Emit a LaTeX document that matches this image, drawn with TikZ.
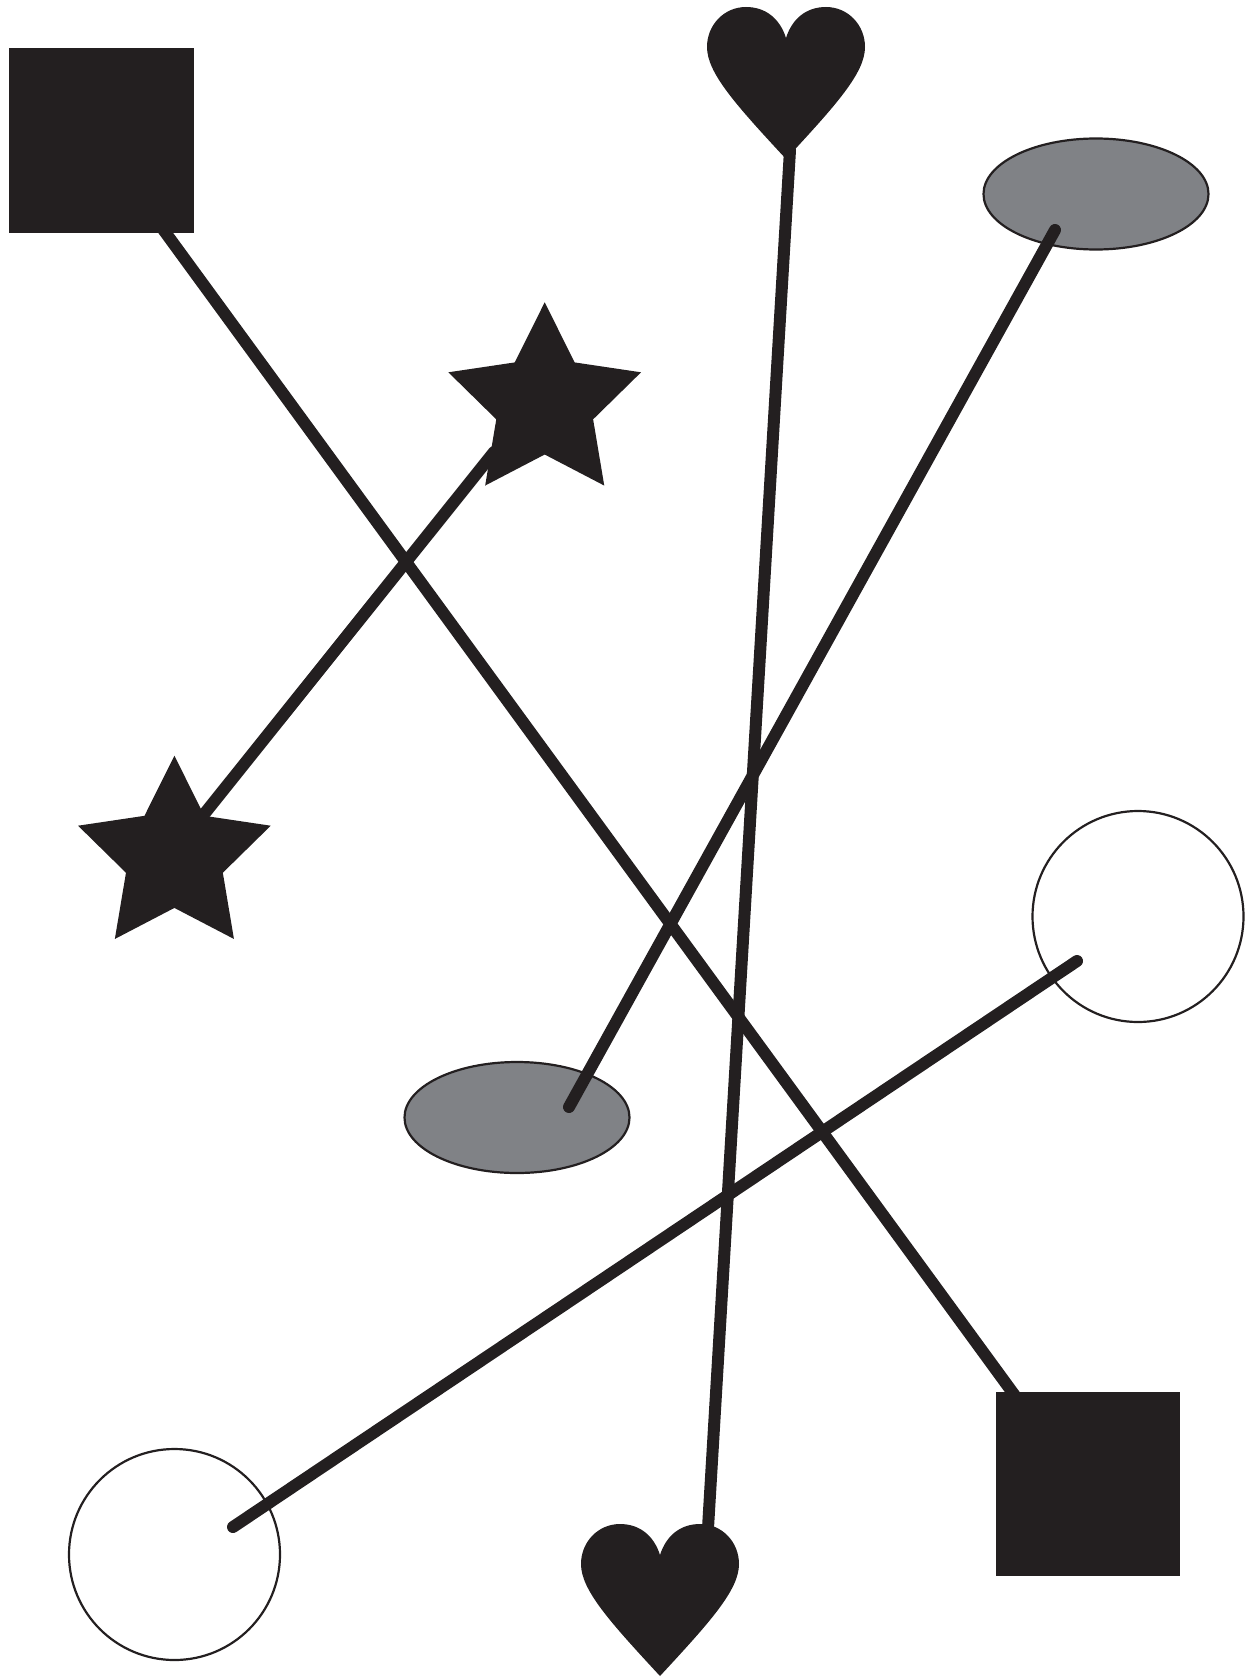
\documentclass[tikz,border=0pt]{standalone}
\usepackage{tikz}
\usetikzlibrary{shapes.geometric}
\definecolor{Ink}{RGB}{35,31,32}
\definecolor{OvalFill}{RGB}{128,130,134}
\tikzset{
  nd_sq/.style={rectangle,fill=Ink,inner sep=0pt},
  nd_star/.style={star,star points=5,star point ratio=1.99,fill=Ink,inner sep=0pt,minimum size=202.6pt},
  nd_oval/.style={ellipse,draw=Ink,line width=2.2pt,fill=OvalFill,inner sep=0pt,minimum width=225pt,minimum height=111pt},
  nd_ring/.style={circle,draw=Ink,line width=2.2pt,inner sep=0pt,minimum size=211pt},
  rod/.style={draw=Ink,line width=12pt,line cap=round},
}
\newcommand{\heartat}[2]{%
  \fill[Ink,shift={(#1,#2)}] (0,31) .. controls (-6,12) and (-20,0) .. (-40,0)
    .. controls (-62,0) and (-79,18) .. (-79,40) .. controls (-79,66) and (-50,98) .. (0,152)
    .. controls (50,98) and (79,66) .. (79,40)
    .. controls (79,18) and (62,0) .. (40,0) .. controls (20,0) and (6,12) .. (0,31) -- cycle;}

\begin{document}
\begin{tikzpicture}[x=1pt,y=-1pt]
\useasboundingbox (0,0) rectangle (1251,1678);
% rings and ovals
\node[nd_ring] (ringA) at (1138,916.5) {};
\node[nd_ring] (ringB) at (174.5,1554.5) {};
\node[nd_oval] (ovalA) at (1096,194) {};
\node[nd_oval] (ovalB) at (517,1117.5) {};
% rod ends
\coordinate (sqEndA) at (157,221);
\coordinate (sqEndB) at (1021,1404);
\coordinate (hrtEndA) at (790,150);
\coordinate (hrtEndB) at (708,1528);
\coordinate (ovEndA) at (1055,230);
\coordinate (ovEndB) at (569,1107);
\coordinate (stEndA) at (494,452);
\coordinate (stEndB) at (197,823);
\coordinate (rgEndA) at (1077,961);
\coordinate (rgEndB) at (233,1527);
% rods
\draw[rod] (sqEndA) -- (sqEndB);
\draw[rod] (hrtEndA) -- (hrtEndB);
\draw[rod] (ovEndA) -- (ovEndB);
\draw[rod] (stEndA) -- (stEndB);
\draw[rod] (rgEndA) -- (rgEndB);
% black shapes
\node[nd_sq,minimum size=185pt] (sqA) at (101.5,140.5) {};
\node[nd_sq,minimum size=184pt] (sqB) at (1088.3,1484.3) {};
\node[nd_star] (starA) at (544.7,403.6) {};
\node[nd_star] (starB) at (174.4,857) {};
\heartat{786}{7}
\heartat{660}{1524}
\end{tikzpicture}
\end{document}
